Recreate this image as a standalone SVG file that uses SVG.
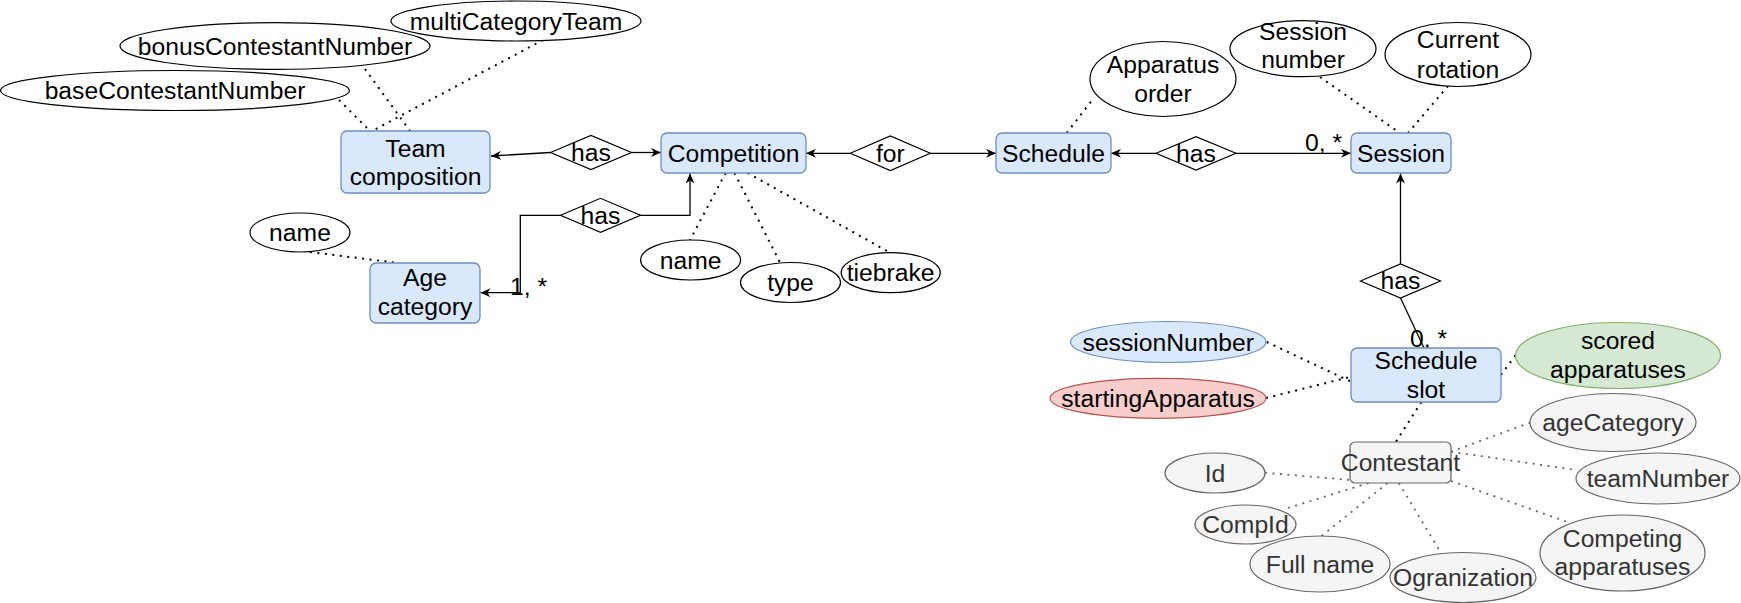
<svg xmlns="http://www.w3.org/2000/svg" width="1741" height="603" viewBox="0 0 1741 603">
<style>
text{font-family:"Liberation Sans",Arial,sans-serif;font-size:24.7px;fill:#000;text-anchor:middle}
.ent{fill:#dae8fc;stroke:#6c8ebf;stroke-width:1.3}
.attr{fill:#fff;stroke:#000;stroke-width:1.2}
.rel{fill:#fff;stroke:#000;stroke-width:1.2}
.gray{fill:#f5f5f5;stroke:#666;stroke-width:1.2}
.blue{fill:#dae8fc;stroke:#6c8ebf;stroke-width:1.2}
.red{fill:#f8cecc;stroke:#b85450;stroke-width:1.2}
.green{fill:#d5e8d4;stroke:#82b366;stroke-width:1.2}
.gt{fill:#333}
.line{fill:none;stroke:#000;stroke-width:1.3}
.arr{marker-end:url(#arrow)}
.dot{fill:none;stroke:#000;stroke-width:2;stroke-dasharray:2 5.5}
.gdot{fill:none;stroke:#666;stroke-width:1.8;stroke-dasharray:2 5.5}
.lbl{text-anchor:start}
</style>
<defs>
<marker id="arrow" markerUnits="userSpaceOnUse" markerWidth="11" markerHeight="9" refX="10" refY="4.5" orient="auto">
<path d="M0,0 L10,4.5 L0,9 L3,4.5 z" fill="#000"/>
</marker>
</defs>

<g id="connectors">
<line class="line arr" x1="550.5" y1="152.5" x2="491" y2="156"/>
<line class="line arr" x1="631.5" y1="152.5" x2="661" y2="152.5"/>
<line class="line arr" x1="850.3" y1="153.3" x2="806" y2="153.3"/>
<line class="line arr" x1="930.3" y1="153.3" x2="996" y2="153.3"/>
<path class="line arr" d="M560.5,215.3 H520.3 V292.7 H480.5"/>
<path class="line arr" d="M640.5,215.3 H690 V173.5"/>
<line class="line arr" x1="1156" y1="153.3" x2="1111" y2="153.3"/>
<line class="line arr" x1="1236" y1="153.3" x2="1351" y2="153.3"/>
<line class="line arr" x1="1400.5" y1="264" x2="1400.5" y2="173.5"/>
<line class="line" x1="1400.5" y1="298" x2="1424" y2="348"/>

<line class="dot" x1="339" y1="100" x2="370" y2="131"/>
<line class="dot" x1="365" y1="69" x2="410" y2="131"/>
<line class="dot" x1="543" y1="40" x2="372" y2="131"/>
<line class="dot" x1="310" y1="252" x2="398" y2="263"/>
<line class="dot" x1="725.6" y1="173" x2="690" y2="240"/>
<line class="dot" x1="734.5" y1="173" x2="780" y2="262.5"/>
<line class="dot" x1="747.7" y1="173" x2="890" y2="252.7"/>
<line class="dot" x1="1066.7" y1="133" x2="1093" y2="99"/>
<line class="dot" x1="1320" y1="77" x2="1400" y2="133"/>
<line class="dot" x1="1448" y1="86" x2="1408" y2="133"/>
<line class="dot" x1="1266.7" y1="342" x2="1351" y2="381.7"/>
<line class="dot" x1="1266" y1="398" x2="1351" y2="376.7"/>
<line class="dot" x1="1501" y1="375" x2="1515.7" y2="355"/>
<line class="dot" x1="1421.4" y1="402" x2="1395.8" y2="442"/>
<line class="gdot" x1="1451" y1="451.7" x2="1530" y2="422.7"/>
<line class="gdot" x1="1451" y1="451.7" x2="1576" y2="470"/>
<line class="gdot" x1="1451" y1="481" x2="1576" y2="525"/>
<line class="gdot" x1="1398.8" y1="483" x2="1441" y2="553"/>
<line class="gdot" x1="1387.5" y1="483" x2="1321.5" y2="536"/>
<line class="gdot" x1="1368.7" y1="483" x2="1283.8" y2="509.3"/>
<line class="gdot" x1="1265" y1="472.7" x2="1350" y2="480"/>

<text class="lbl" x="510" y="295">1, *</text>
<text class="lbl" x="1305" y="150.5">0, *</text>
<text class="lbl" x="1410" y="346.5">0, *</text>
</g>

<g id="team_composition"><rect class="ent" x="341" y="131" width="149" height="62" rx="6"/><text x="415.5" y="156.7">Team</text><text x="415.5" y="184.7">composition</text></g>
<g id="competition"><rect class="ent" x="661" y="133" width="145" height="40" rx="6"/><text x="733.5" y="162">Competition</text></g>
<g id="schedule"><rect class="ent" x="996" y="133" width="115" height="40" rx="6"/><text x="1053.5" y="162">Schedule</text></g>
<g id="session"><rect class="ent" x="1351" y="133" width="100" height="40" rx="6"/><text x="1401" y="162">Session</text></g>
<g id="age_category"><rect class="ent" x="370" y="263" width="110" height="60" rx="6"/><text x="425" y="286">Age</text><text x="425" y="315">category</text></g>
<g id="schedule_slot"><rect class="ent" x="1351" y="348" width="150" height="54" rx="6"/><text x="1426" y="369.3">Schedule</text><text x="1426" y="398.3">slot</text></g>
<g id="contestant"><rect class="gray" x="1350" y="442" width="101" height="41" rx="5"/><text class="gt" x="1400.5" y="471">Contestant</text></g>

<g id="rel_has_team"><polygon class="rel" points="550.5,152.5 591,135.5 631.5,152.5 591,169.5"/><text x="591" y="160.5">has</text></g>
<g id="rel_for"><polygon class="rel" points="850.3,153.3 890.3,136 930.3,153.3 890.3,170.6"/><text x="890.3" y="161.5">for</text></g>
<g id="rel_has_age"><polygon class="rel" points="560.5,215.3 600.5,198.3 640.5,215.3 600.5,232.3"/><text x="600.5" y="223.5">has</text></g>
<g id="rel_has_session"><polygon class="rel" points="1156,153.3 1196,136.6 1236,153.3 1196,170"/><text x="1196" y="161.5">has</text></g>
<g id="rel_has_slot"><polygon class="rel" points="1360.5,281 1400.5,264 1440.5,281 1400.5,298"/><text x="1400.5" y="289">has</text></g>

<g id="attr_multiCategoryTeam"><ellipse class="attr" cx="516" cy="21" rx="125" ry="20"/><text x="516" y="29.5">multiCategoryTeam</text></g>
<g id="attr_bonusContestantNumber"><ellipse class="attr" cx="275" cy="46" rx="155" ry="23.3"/><text x="275" y="54.5">bonusContestantNumber</text></g>
<g id="attr_baseContestantNumber"><ellipse class="attr" cx="175" cy="90.5" rx="174.5" ry="20"/><text x="175" y="99.3">baseContestantNumber</text></g>
<g id="attr_age_name"><ellipse class="attr" cx="300" cy="232.5" rx="50" ry="19.5"/><text x="300" y="241">name</text></g>
<g id="attr_comp_name"><ellipse class="attr" cx="690.6" cy="260" rx="50" ry="20"/><text x="690.6" y="268.7">name</text></g>
<g id="attr_type"><ellipse class="attr" cx="790.5" cy="282.5" rx="50" ry="20"/><text x="790.5" y="291">type</text></g>
<g id="attr_tiebrake"><ellipse class="attr" cx="890.7" cy="272.7" rx="49.5" ry="20"/><text x="890.7" y="281.4">tiebrake</text></g>
<g id="attr_apparatus_order"><ellipse class="attr" cx="1163" cy="79" rx="73" ry="37.5"/><text x="1163" y="72.7">Apparatus</text><text x="1163" y="101.7">order</text></g>
<g id="attr_session_number"><ellipse class="attr" cx="1303" cy="48.7" rx="73" ry="28"/><text x="1303" y="40">Session</text><text x="1303" y="68.3">number</text></g>
<g id="attr_current_rotation"><ellipse class="attr" cx="1458" cy="54.5" rx="73" ry="32"/><text x="1458" y="48.3">Current</text><text x="1458" y="78.3">rotation</text></g>
<g id="attr_sessionNumber"><ellipse class="blue" cx="1168.3" cy="342" rx="97.7" ry="20.5"/><text x="1168.3" y="350.7">sessionNumber</text></g>
<g id="attr_startingApparatus"><ellipse class="red" cx="1158" cy="398.3" rx="108" ry="20"/><text x="1158" y="407">startingApparatus</text></g>
<g id="attr_scored_apparatuses"><ellipse class="green" cx="1618" cy="355.5" rx="102.5" ry="33"/><text x="1618" y="349.3">scored</text><text x="1618" y="377.7">apparatuses</text></g>
<g id="attr_ageCategory"><ellipse class="gray" cx="1613" cy="422.5" rx="83" ry="29"/><text class="gt" x="1613" y="431.2">ageCategory</text></g>
<g id="attr_teamNumber"><ellipse class="gray" cx="1658" cy="478.5" rx="82" ry="25.5"/><text class="gt" x="1658" y="487.2">teamNumber</text></g>
<g id="attr_competing_apparatuses"><ellipse class="gray" cx="1622.5" cy="553" rx="82.5" ry="38"/><text class="gt" x="1622.5" y="546.7">Competing</text><text class="gt" x="1622.5" y="575">apparatuses</text></g>
<g id="attr_ogranization"><ellipse class="gray" cx="1463" cy="577.5" rx="73" ry="25"/><text class="gt" x="1463" y="586.2">Ogranization</text></g>
<g id="attr_full_name"><ellipse class="gray" cx="1320" cy="564" rx="70" ry="28"/><text class="gt" x="1320" y="572.7">Full name</text></g>
<g id="attr_compId"><ellipse class="gray" cx="1245.5" cy="524.5" rx="50.5" ry="19.5"/><text class="gt" x="1245.5" y="533.2">CompId</text></g>
<g id="attr_id"><ellipse class="gray" cx="1215" cy="473" rx="50" ry="20"/><text class="gt" x="1215" y="481.7">Id</text></g>
</svg>
